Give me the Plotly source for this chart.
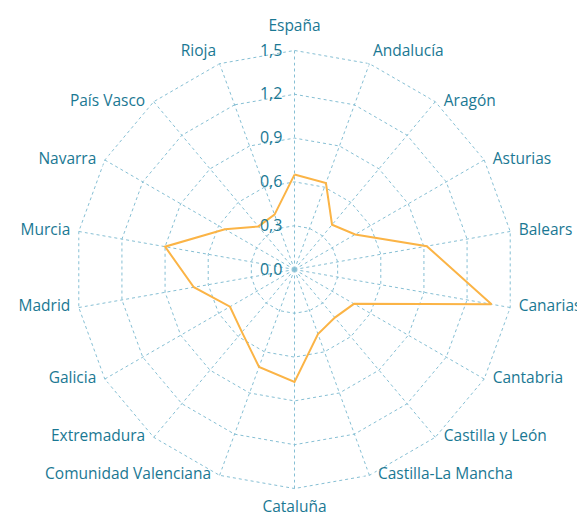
import plotly.graph_objects as go

# Regions, clockwise from the top
regions = [
    "España", "Andalucía", "Aragón", "Asturias", "Balears", "Canarias",
    "Cantabria", "Castilla y León", "Castilla-La Mancha", "Cataluña",
    "Comunidad Valenciana", "Extremadura", "Galicia", "Madrid", "Murcia",
    "Navarra", "País Vasco", "Rioja",
]
values = [
    0.65, 0.63, 0.40, 0.48, 0.92, 1.37,
    0.47, 0.43, 0.47, 0.77,
    0.71, 0.56, 0.51, 0.70, 0.90,
    0.55, 0.385, 0.40,
]
radial_ticks = [0.0, 0.3, 0.6, 0.9, 1.2, 1.5]

text_color = "#1a7893"
grid_color = "#86bfd4"
line_color = "#fbb446"
font_family = "Open Sans"
r_max = 1.5

fig = go.Figure()
fig.add_trace(go.Scatterpolar(
    r=values + values[:1],
    theta=regions + regions[:1],
    mode="lines",
    line=dict(color=line_color, width=2),
    showlegend=False,
    hoverinfo="skip",
))

# category labels: text on the outer ring, pushed out by an invisible marker
n = len(regions)
lab_pos, lab_size = [], []
for i in range(n):
    ang = i * 360 / n
    if ang == 0:
        lab_pos.append("top center")
        lab_size.append(24)
    elif ang == 180:
        lab_pos.append("bottom center")
        lab_size.append(18)
    elif ang == 20:
        lab_pos.append("top right")
        lab_size.append(4)
    elif ang == 340:
        lab_pos.append("top left")
        lab_size.append(4)
    else:
        lab_pos.append("middle right" if ang < 180 else "middle left")
        lab_size.append(12)

fig.add_trace(go.Scatterpolar(
    r=[r_max] * n,
    theta=regions,
    mode="markers+text",
    marker=dict(size=lab_size, color="rgba(0,0,0,0)"),
    text=regions,
    textposition=lab_pos,
    textfont=dict(family=font_family, size=15.5, color=text_color),
    cliponaxis=False,
    showlegend=False,
    hoverinfo="skip",
))

fig.update_layout(
    width=585, height=518,
    margin=dict(l=65.5, r=77.5, t=40.5, b=35.5, autoexpand=False),
    paper_bgcolor="white",
    separators=",.",
    font=dict(family=font_family, size=16, color=text_color),
    polar=dict(
        bgcolor="white",
        gridshape="linear",
        angularaxis=dict(
            direction="clockwise",
            rotation=90,
            categoryorder="array",
            categoryarray=regions,
            showline=False,
            ticks="",
            showticklabels=False,
            showgrid=True,
            gridcolor=grid_color,
            griddash="dot",
            gridwidth=1,
        ),
        radialaxis=dict(
            range=[0, r_max + 0.01],
            tickvals=radial_ticks,
            tickformat=".1f",
            angle=90,
            tickangle=90,
            side="counterclockwise",
            showline=False,
            ticks="outside",
            ticklen=6,
            tickcolor="rgba(0,0,0,0)",
            showgrid=True,
            gridcolor=grid_color,
            griddash="dot",
            gridwidth=1,
            tickfont=dict(family=font_family, size=16, color=text_color),
        ),
    ),
)

fig.write_html("out.html")
